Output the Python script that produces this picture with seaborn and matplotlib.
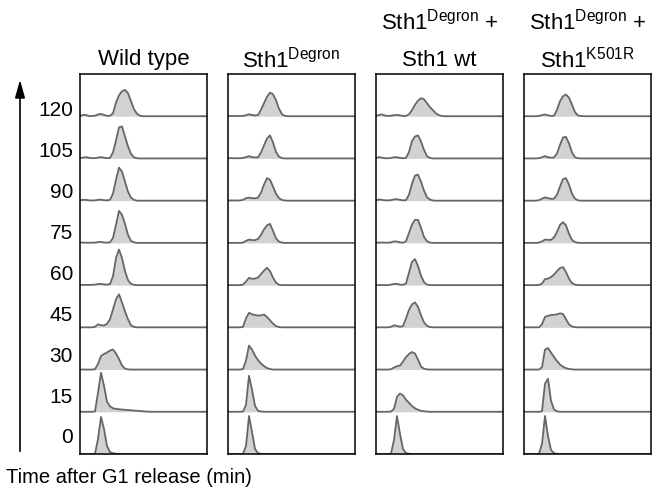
import matplotlib
matplotlib.use("Agg")
import numpy as np
import matplotlib.pyplot as plt
import seaborn as sns
from matplotlib.patches import FancyArrowPatch

# time points after G1 release (min), bottom row first
times = [0, 15, 30, 45, 60, 75, 90, 105, 120]

# DNA content channel (arbitrary units), histogram bins
dna = list(range(0, 73, 3))
dna_max = 127

# histogram heights per time point (same order as times), one list per strain
wild_type = [
    [0, 0, 0, 0, 0, 0.3, 15, 37, 25, 8, 2, 0.7, 0.3, 0, 0, 0, 0, 0, 0, 0, 0, 0, 0, 0, 0],
    [0, 0, 0, 0, 0, 0.3, 19, 39, 26, 10, 5.5, 3.5, 2.8, 2.5, 2.2, 2, 1.7, 1.5, 1.2, 1, 0.8, 0.5, 0.3, 0.1, 0],
    [0, 0, 0, 0, 0, 0.3, 5.7, 13.5, 15.5, 17, 19, 20, 16, 10.5, 4, 1, 0.2, 0, 0, 0, 0, 0, 0, 0, 0],
    [0, 0, 0, 0, 0, 0.5, 3, 2.2, 1.8, 3.5, 8, 18, 28, 33, 25, 16, 8, 2, 0.5, 0, 0, 0, 0, 0, 0],
    [0.2, 0.2, 0.2, 0.2, 0.3, 0.5, 1.0, 1.2, 0.7, 0.5, 1, 9, 27, 35.5, 27, 14, 5, 1.2, 0.3, 0, 0, 0, 0, 0, 0],
    [0.3, 0.3, 0.2, 0.2, 0.2, 0.3, 0.8, 1.0, 0.4, 0.3, 0.5, 5, 18, 32, 28, 19, 8, 2, 0.5, 0, 0, 0, 0, 0, 0],
    [0.5, 0.8, 0.8, 0.3, 0.2, 0.3, 0.8, 1.0, 0.5, 0.3, 0.8, 7, 21, 33, 29, 19, 9, 3, 0.8, 0, 0, 0, 0, 0, 0],
    [0.5, 0.8, 1.3, 0.6, 0.3, 0.3, 0.8, 1.3, 0.8, 0.3, 0.5, 6, 18, 31, 32, 22, 12, 4.5, 1, 0.2, 0, 0, 0, 0, 0],
    [0.3, 1.3, 1.2, 0.2, 0.2, 0.5, 1.8, 2.3, 1.3, 0.4, 0.4, 3, 13.5, 21, 25, 26.3, 23, 15, 7, 2.5, 0.5, 0, 0, 0, 0],
]

sth1_degron = [
    [0, 0, 0, 0, 0, 0.2, 8, 38, 22, 5, 0.8, 0.2, 0, 0, 0, 0, 0, 0, 0, 0, 0, 0, 0, 0, 0],
    [0, 0, 0, 0, 0, 0.2, 7, 36, 22, 6, 1, 0.3, 0, 0, 0, 0, 0, 0, 0, 0, 0, 0, 0, 0, 0],
    [0, 0, 0, 0, 0, 0.5, 9, 24, 20, 14, 9.5, 6, 3.5, 1.5, 0.5, 0, 0, 0, 0, 0, 0, 0, 0, 0, 0],
    [0, 0, 0, 0, 0, 0.5, 9, 14.5, 13, 12.3, 11.7, 12, 12.8, 10.3, 7, 3.7, 1.2, 0.3, 0, 0, 0, 0, 0, 0, 0],
    [0, 0, 0, 0, 0, 0.5, 3.5, 7.3, 6.3, 6.5, 7.5, 11, 14.5, 17.3, 14, 7.5, 2.5, 0.3, 0, 0, 0, 0, 0, 0, 0],
    [0, 0, 0, 0, 0, 0.3, 2, 3.3, 2.8, 2.7, 4, 8, 13.5, 17.5, 19, 12, 4.5, 1.2, 0.3, 0, 0, 0, 0, 0, 0],
    [0.2, 0.2, 0.2, 0.2, 0.3, 0.8, 2.5, 3, 2.5, 2.3, 3, 8, 16, 22.5, 21, 14, 7, 2.5, 0.7, 0.2, 0, 0, 0, 0, 0],
    [0.3, 0.3, 0.2, 0.2, 0.2, 0.5, 1.3, 2.3, 1.3, 1.0, 1.2, 6, 13, 20, 23, 16, 6.5, 1.8, 0.3, 0, 0, 0, 0, 0, 0],
    [0.3, 0.3, 0.3, 0.2, 0.2, 0.3, 1, 2, 1.2, 0.8, 1.2, 6.5, 13, 19.5, 23.5, 22, 16, 7.5, 2, 0.3, 0, 0, 0, 0, 0],
]

degron_sth1_wt = [
    [0, 0, 0, 0, 0, 0.3, 14, 38, 20, 5, 1, 0.3, 0, 0, 0, 0, 0, 0, 0, 0, 0, 0, 0, 0, 0],
    [0, 0, 0, 0, 0, 0.2, 3, 15, 18.3, 16.5, 12, 9, 5.7, 3.5, 2, 1, 0.5, 0.2, 0, 0, 0, 0, 0, 0, 0],
    [0, 0, 0, 0, 0, 0.3, 2, 3.3, 4, 8, 12.5, 15.5, 17.5, 16, 10, 3, 0.8, 0.2, 0, 0, 0, 0, 0, 0, 0],
    [0, 0, 0, 0, 0, 0.5, 2, 1.5, 0.5, 1.2, 9, 17.5, 23, 25, 20.5, 12, 5, 1.5, 0.3, 0, 0, 0, 0, 0, 0],
    [0, 0, 0, 0, 0, 0.5, 1.2, 1.3, 0.5, 0.3, 1.5, 12.5, 23.3, 26, 19, 9.5, 3, 0.5, 0, 0, 0, 0, 0, 0, 0],
    [0.2, 0.3, 0.3, 0.2, 0.2, 0.5, 1.5, 1.3, 0.5, 0.3, 1.5, 10, 18.3, 23, 23, 15, 6, 1.7, 0.3, 0, 0, 0, 0, 0, 0],
    [0.3, 1.2, 0.8, 0.3, 0.3, 0.5, 1.3, 1.5, 0.8, 0.3, 0.5, 6, 17, 25, 26, 19, 10, 3.5, 1, 0.2, 0, 0, 0, 0, 0],
    [0.3, 1.3, 0.8, 0.2, 0.2, 0.5, 1.2, 1.2, 0.5, 0.2, 0.5, 6.5, 17.3, 22, 23, 17, 8.5, 2.3, 0.5, 0, 0, 0, 0, 0, 0],
    [0.3, 1.2, 1.8, 0.6, 0.3, 0.5, 1.0, 1.3, 0.8, 0.3, 0.3, 2, 6, 11.5, 15.5, 18, 17, 13, 9, 6, 2.8, 1, 0.2, 0, 0],
]

degron_sth1_k501r = [
    [0, 0, 0, 0, 0, 0.3, 10, 38, 18, 4, 0.8, 0.2, 0, 0, 0, 0, 0, 0, 0, 0, 0, 0, 0, 0, 0],
    [0, 0, 0, 0, 0, 0, 0.5, 28, 33, 11, 2.3, 0.5, 0, 0, 0, 0, 0, 0, 0, 0, 0, 0, 0, 0, 0],
    [0, 0, 0, 0, 0, 0, 2.3, 20, 21.5, 17, 12.5, 8.5, 5, 2.8, 1.4, 0.6, 0.2, 0, 0, 0, 0, 0, 0, 0, 0],
    [0, 0, 0, 0, 0, 0, 3, 10.5, 11.5, 12.3, 12.5, 13, 14, 13.3, 8, 3, 0.8, 0.2, 0, 0, 0, 0, 0, 0, 0],
    [0, 0, 0, 0, 0, 0.2, 1.5, 6, 6.5, 8, 10.5, 14, 17, 18, 13, 6.5, 2, 0.5, 0, 0, 0, 0, 0, 0, 0],
    [0, 0, 0, 0, 0, 0.3, 1.5, 3.3, 3, 3, 5.5, 11, 18, 20.7, 17.5, 9, 3, 0.8, 0.2, 0, 0, 0, 0, 0, 0],
    [0, 0, 0, 0, 0, 0.5, 2, 3.3, 2.5, 1.8, 2, 6, 14, 21.5, 22.5, 16, 7, 2, 0.3, 0, 0, 0, 0, 0, 0],
    [0, 0, 0, 0, 0, 0.3, 1.2, 2.3, 1.2, 0.8, 1.0, 5, 13.5, 21, 21.5, 15, 6, 1.2, 0.2, 0, 0, 0, 0, 0, 0],
    [0, 0, 0, 0, 0, 0.3, 1.2, 1.8, 0.8, 0.3, 0.5, 6.5, 15, 20, 21.7, 18.5, 11.5, 4, 0.8, 0.2, 0, 0, 0, 0, 0],
]

titles = [
    ["", "Wild type"],
    ["", r"Sth1$^{\mathrm{Degron}}$"],
    [r"Sth1$^{\mathrm{Degron}}$ +", "Sth1 wt"],
    [r"Sth1$^{\mathrm{Degron}}$ +", r"Sth1$^{\mathrm{K501R}}$"],
]
datasets = [wild_type, sth1_degron, degron_sth1_wt, degron_sth1_k501r]

sns.set_style("white")
plt.rcParams["font.family"] = ["Liberation Sans", "DejaVu Sans"]
plt.rcParams["text.color"] = "black"
plt.rcParams["mathtext.fontset"] = "custom"
plt.rcParams["mathtext.rm"] = "Liberation Sans"
plt.rcParams["mathtext.it"] = "Liberation Sans:italic"
plt.rcParams["mathtext.bf"] = "Liberation Sans:bold"

W, H = 657, 502
fig = plt.figure(figsize=(W / 100, H / 100), dpi=100)

line_col = "#666666"
fill_col = "#d2d2d2"
row_h = 42.2
panel_left = [80, 228, 376, 524]
panel_w = 127
panel_top, panel_bot = 75, 455
fs = 15

for left, data, ttl in zip(panel_left, datasets, titles):
    ax = fig.add_axes([left / W, (H - panel_bot) / H, panel_w / W, (panel_bot - panel_top) / H])
    for i, vals in enumerate(data):
        xs = dna + [dna_max]
        ys = np.array(vals + [0]) + i * row_h
        ax.fill_between(xs, i * row_h, ys, color=fill_col, lw=0)
        sns.lineplot(x=xs, y=ys, ax=ax, color=line_col, lw=1.3, estimator=None, sort=False)
    ax.set_xlim(0, dna_max)
    ax.set_ylim(0, 9 * row_h)
    ax.set(xticks=[], yticks=[], xlabel="", ylabel="")
    for s in ax.spines.values():
        s.set_color("black")
        s.set_linewidth(1.1)
    cx = (left + panel_w / 2) / W
    fig.text(cx, 1 - 22 / H, ttl[0], ha="center", va="center", fontsize=fs + 1)
    fig.text(cx, 1 - 60 / H, ttl[1], ha="center", va="center", fontsize=fs + 1)

# time labels on the left
for i, t in enumerate(times):
    y = panel_bot - 17 - i * 40.9
    fig.text(73 / W, 1 - y / H, str(t), ha="right", va="center", fontsize=fs)

fig.add_artist(FancyArrowPatch((20 / W, 1 - panel_bot / H), (20 / W, 1 - 78 / H),
                               transform=fig.transFigure, arrowstyle="-|>,head_width=0.25,head_length=0.9",
                               mutation_scale=12, lw=1.2, color="black"))

fig.text(6 / W, 1 - 478 / H, "Time after G1 release (min)", ha="left", va="center", fontsize=fs - 0.5)

fig.savefig("out.png", dpi=100)
